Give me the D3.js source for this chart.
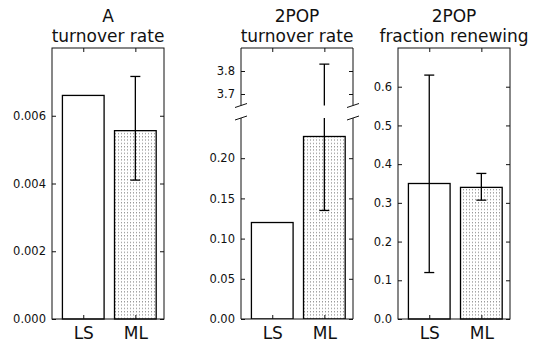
<!DOCTYPE html>
<html>
<head>
<meta charset="utf-8">
<script src="https://cdn.jsdelivr.net/npm/d3@7"></script>
<style>
  body { margin: 0; background: #fff; }
  svg { display: block; font-family: "DejaVu Sans", sans-serif; }
</style>
</head>
<body>
<svg id="chart" width="534" height="342"></svg>
<script>
// ---- data ----
const categories = ["LS", "ML"];
const titlesA = ["A", "turnover rate"];
const titlesPopTurn = ["2POP", "turnover rate"];
const titlesPopFrac = ["2POP", "fraction renewing"];

const aTurnover = [0.0066, 0.00556];
const aTurnoverErrLow = [null, 0.0041];
const aTurnoverErrHigh = [null, 0.00716];
const aTicks = [0, 0.002, 0.004, 0.006];
const aTickLabels = ["0.000", "0.002", "0.004", "0.006"];

const popTurnover = [0.12, 0.227];
const popTurnoverErrLow = [null, 0.135];
const popTurnoverErrHigh = [null, 3.83];
const popTurnLowTicks = [0, 0.05, 0.10, 0.15, 0.20];
const popTurnLowLabels = ["0.00", "0.05", "0.10", "0.15", "0.20"];
const popTurnHighTicks = [3.7, 3.8];
const popTurnHighLabels = ["3.7", "3.8"];

const popFraction = [0.35, 0.34];
const popFractionErrLow = [0.12, 0.307];
const popFractionErrHigh = [0.63, 0.376];
const popFracTicks = [0, 0.1, 0.2, 0.3, 0.4, 0.5, 0.6];
const popFracLabels = ["0.0", "0.1", "0.2", "0.3", "0.4", "0.5", "0.6"];

// ---- drawing ----
const svg = d3.select("#chart");
const defs = svg.append("defs");
const pat = defs.append("pattern").attr("id", "dots")
  .attr("patternUnits", "userSpaceOnUse").attr("width", 3).attr("height", 3.3);
pat.append("rect").attr("width", 3).attr("height", 3.3).attr("fill", "#fff");
pat.append("rect").attr("x", 1).attr("y", 1).attr("width", 1).attr("height", 1).attr("fill", "#777");

const fills = ["#fff", "url(#dots)"];
const TOP = 48, BOTTOM = 319;
const tickFont = 11.5;
const catFont = 17;

function xScaleFor(x0, x1) {
  return d3.scaleLinear().domain([-0.2, 1.95]).range([x0, x1]);
}

function styleAxis(g, fontSize) {
  g.select(".domain").remove();
  g.selectAll(".tick line").attr("stroke", "#111").attr("stroke-width", 1);
  g.selectAll(".tick text").attr("fill", "#111").style("font-size", fontSize + "px")
    .style("font-family", "DejaVu Sans, sans-serif");
}

function drawTitle(lines, x0, x1) {
  const cx = (x0 + x1) / 2;
  svg.append("text").attr("x", cx).attr("y", 21.5).attr("text-anchor", "middle")
    .style("font-size", "17px").attr("fill", "#111").text(lines[0]);
  svg.append("text").attr("x", cx).attr("y", 41.5).attr("text-anchor", "middle")
    .style("font-size", "17px").attr("fill", "#111").text(lines[1]);
}

function drawBars(g, x, y, vals, clipId) {
  g.selectAll("rect.bar").data(vals).join("rect").attr("class", "bar")
    .attr("x", (d, i) => x(i))
    .attr("width", (d, i) => x(i + 0.8) - x(i))
    .attr("y", d => y(d))
    .attr("height", d => y(0) - y(d))
    .attr("fill", (d, i) => fills[i])
    .attr("stroke", "#000").attr("stroke-width", 1.3)
    .attr("clip-path", clipId ? `url(#${clipId})` : null);
}

function drawErr(g, x, y, lo, hi, clipId, capLo = true, capHi = true) {
  const grp = g.append("g").attr("clip-path", clipId ? `url(#${clipId})` : null);
  lo.forEach((l, i) => {
    if (l === null) return;
    const h = hi[i];
    const cx = x(i + 0.4);
    grp.append("line").attr("x1", cx).attr("x2", cx).attr("y1", y(l)).attr("y2", y(h))
      .attr("stroke", "#000").attr("stroke-width", 1.3);
    if (capLo) grp.append("line").attr("x1", cx - 5).attr("x2", cx + 5).attr("y1", y(l)).attr("y2", y(l))
      .attr("stroke", "#000").attr("stroke-width", 1.3);
    if (capHi) grp.append("line").attr("x1", cx - 5).attr("x2", cx + 5).attr("y1", y(h)).attr("y2", y(h))
      .attr("stroke", "#000").attr("stroke-width", 1.3);
  });
}

function simplePanel(x0, x1, yDomain, vals, lo, hi, ticks, labels, titleLines, labelPad, labelFont) {
  const x = xScaleFor(x0, x1);
  const y = d3.scaleLinear().domain(yDomain).range([BOTTOM, TOP]);
  const g = svg.append("g");
  drawBars(g, x, y, vals);
  drawErr(g, x, y, lo, hi);
  // spines
  g.append("rect").attr("x", x0).attr("y", TOP).attr("width", x1 - x0).attr("height", BOTTOM - TOP)
    .attr("fill", "none").attr("stroke", "#111").attr("stroke-width", 1);
  const tickPos = categories.map((c, i) => i + 0.4);
  g.append("g").attr("transform", `translate(${x0},0)`)
    .call(d3.axisLeft(y).tickValues(ticks).tickFormat((d, i) => labels[i]).tickSizeInner(-4).tickSizeOuter(0).tickPadding(labelPad))
    .call(a => styleAxis(a, labelFont));
  g.append("g").attr("transform", `translate(${x1},0)`)
    .call(d3.axisRight(y).tickValues(ticks).tickFormat("").tickSizeInner(-4).tickSizeOuter(0))
    .call(a => styleAxis(a, labelFont));
  g.append("g").attr("transform", `translate(0,${BOTTOM})`)
    .call(d3.axisBottom(x).tickValues(tickPos).tickFormat((d, i) => categories[i]).tickSizeInner(-4).tickSizeOuter(0).tickPadding(8))
    .call(a => styleAxis(a, catFont));
  g.append("g").attr("transform", `translate(0,${TOP})`)
    .call(d3.axisTop(x).tickValues(tickPos).tickFormat("").tickSizeInner(-4).tickSizeOuter(0))
    .call(a => styleAxis(a, labelFont));
  drawTitle(titleLines, x0, x1);
}

// Panel A
simplePanel(52, 164, [0, 0.008], aTurnover, aTurnoverErrLow, aTurnoverErrHigh, aTicks, aTickLabels, titlesA, 6, tickFont);

// Panel 2POP turnover (broken axis)
(function () {
  const x0 = 241, x1 = 353;
  const UPB = 105.5, LOWT = 118;
  const x = xScaleFor(x0, x1);
  const yLow = d3.scaleLinear().domain([0, 0.25]).range([BOTTOM, LOWT]);
  const yHigh = d3.scaleLinear().domain([3.65, 3.9]).range([UPB, TOP]);
  const g = svg.append("g");
  defs.append("clipPath").attr("id", "clipLow").append("rect")
    .attr("x", x0).attr("y", LOWT).attr("width", x1 - x0).attr("height", BOTTOM - LOWT);
  defs.append("clipPath").attr("id", "clipHigh").append("rect")
    .attr("x", x0).attr("y", TOP).attr("width", x1 - x0).attr("height", UPB - TOP);
  drawBars(g, x, yLow, popTurnover, "clipLow");
  drawErr(g, x, yLow, popTurnoverErrLow, popTurnoverErrHigh, "clipLow", true, false);
  drawErr(g, x, yHigh, popTurnoverErrLow, popTurnoverErrHigh, "clipHigh", false, true);
  const tickPos = categories.map((c, i) => i + 0.4);
  // spines
  const sp = (xa, ya, xb, yb) => g.append("line").attr("x1", xa).attr("y1", ya).attr("x2", xb).attr("y2", yb)
    .attr("stroke", "#111").attr("stroke-width", 1);
  sp(x0, TOP, x1, TOP); sp(x0, TOP, x0, UPB); sp(x1, TOP, x1, UPB);
  sp(x0, LOWT, x0, BOTTOM); sp(x1, LOWT, x1, BOTTOM); sp(x0, BOTTOM, x1, BOTTOM);
  // break marks
  [[x0, UPB], [x1, UPB], [x0, LOWT], [x1, LOWT]].forEach(([bx, by]) => sp(bx - 6, by + 2, bx + 6, by - 2));
  // axes
  g.append("g").attr("transform", `translate(${x0},0)`)
    .call(d3.axisLeft(yLow).tickValues(popTurnLowTicks).tickFormat((d, i) => popTurnLowLabels[i]).tickSizeInner(-4).tickSizeOuter(0).tickPadding(6))
    .call(a => styleAxis(a, tickFont));
  g.append("g").attr("transform", `translate(${x1},0)`)
    .call(d3.axisRight(yLow).tickValues(popTurnLowTicks).tickFormat("").tickSizeInner(-4).tickSizeOuter(0))
    .call(a => styleAxis(a, tickFont));
  g.append("g").attr("transform", `translate(${x0},0)`)
    .call(d3.axisLeft(yHigh).tickValues(popTurnHighTicks).tickFormat((d, i) => popTurnHighLabels[i]).tickSizeInner(-4).tickSizeOuter(0).tickPadding(6))
    .call(a => styleAxis(a, tickFont));
  g.append("g").attr("transform", `translate(${x1},0)`)
    .call(d3.axisRight(yHigh).tickValues(popTurnHighTicks).tickFormat("").tickSizeInner(-4).tickSizeOuter(0))
    .call(a => styleAxis(a, tickFont));
  g.append("g").attr("transform", `translate(0,${BOTTOM})`)
    .call(d3.axisBottom(x).tickValues(tickPos).tickFormat((d, i) => categories[i]).tickSizeInner(-4).tickSizeOuter(0).tickPadding(8))
    .call(a => styleAxis(a, catFont));
  g.append("g").attr("transform", `translate(0,${TOP})`)
    .call(d3.axisTop(x).tickValues(tickPos).tickFormat("").tickSizeInner(-4).tickSizeOuter(0))
    .call(a => styleAxis(a, tickFont));
  drawTitle(titlesPopTurn, x0, x1);
})();

// Panel 2POP fraction renewing
simplePanel(398, 510, [0, 0.7], popFraction, popFractionErrLow, popFractionErrHigh, popFracTicks, popFracLabels, titlesPopFrac, 6, tickFont);
</script>
</body>
</html>
